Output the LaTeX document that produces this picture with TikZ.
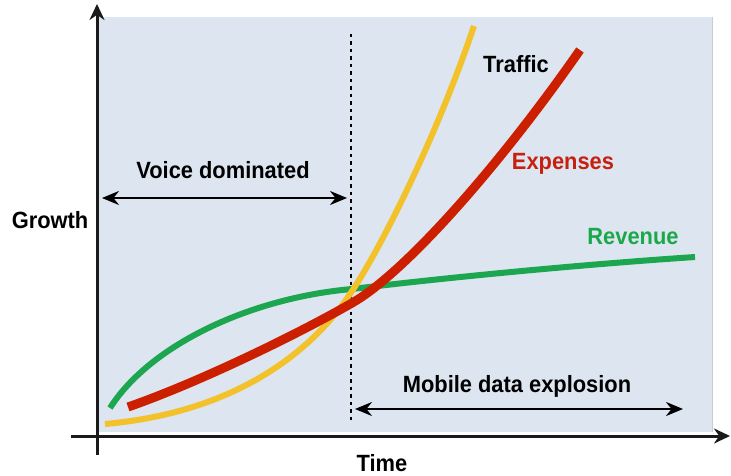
\documentclass[tikz,border=0pt]{standalone}
\usepackage{fontspec}
\setmainfont{Liberation Sans}[FakeStretch=0.93]
\usetikzlibrary{arrows.meta}
\definecolor{bgblue}{HTML}{DCE5F0}
\definecolor{axisc}{HTML}{1A1A1A}
\definecolor{trafficc}{HTML}{F3C12A}
\definecolor{expc}{HTML}{CC1F00}
\definecolor{revc}{HTML}{1DA650}
\definecolor{exptext}{HTML}{C8200E}
\definecolor{revtext}{HTML}{1BA84A}
\tikzset{
  lbl/.style={font=\bfseries\fontsize{23.5}{27}\selectfont, inner sep=0pt},
  axisline/.style={line width=3pt, draw=axisc, -{Stealth[length=16pt,width=15pt]}},
  spanarrow/.style={line width=2.4pt, draw=black, {Stealth[length=17pt,width=14pt]}-{Stealth[length=17pt,width=14pt]}},
  curve/.style={line cap=butt, line join=round},
}
\begin{document}
\begin{tikzpicture}[x=1pt,y=-1pt]
\useasboundingbox (0,0) rectangle (731,476);
\fill[bgblue] (98,17) rectangle (712,432);
\draw[gray!40, line width=0.6pt] (712,17) -- (712,432);
% axes
\coordinate (yb) at (97,455);
\coordinate (yt) at (97,4);
\coordinate (xl) at (71,436);
\coordinate (xr) at (730,436);
\draw[axisline] (yb) -- (yt);
\draw[axisline] (xl) -- (xr);
% dashed separator
\coordinate (dt) at (351,34);
\coordinate (db) at (351,420);
\draw[line width=2.2pt, dash pattern=on 3.5pt off 4pt, black] (dt) -- (db);
% curves
\draw[curve, revc, line width=6pt] (110,408) .. controls (150,345) and (250,298) .. (352,289)
  .. controls (460,276) and (590,264) .. (695,257);
\draw[curve, trafficc, line width=6pt] (105,424) .. controls (240,412) and (315,348) .. (352,291)
  .. controls (374,259) and (432,150) .. (474,26);
\draw[curve, expc, line width=9pt] (128,407) .. controls (200,382) and (300,333) .. (352,303)
  .. controls (405,273) and (500,165) .. (580,50);
% labels
\node[lbl] (traffic) at (516,64) {Traffic};
\node[lbl, text=exptext] (expenses) at (563,164) {Expenses};
\node[lbl, text=revtext] (revenue) at (633,237) {Revenue};
\node[lbl] (growth) at (50,220) {Growth};
\node[lbl] (time) at (382,463) {Time};
\node[lbl] (voice) at (223,170) {Voice dominated};
\node[lbl] (mobile) at (517,386) {Mobile data explosion};
% span arrows
\coordinate (vl) at (102,198);
\coordinate (vr) at (347,198);
\coordinate (ml) at (355,409);
\coordinate (mr) at (683,409);
\draw[spanarrow] (vl) -- (vr);
\draw[spanarrow] (ml) -- (mr);
\end{tikzpicture}
\end{document}
